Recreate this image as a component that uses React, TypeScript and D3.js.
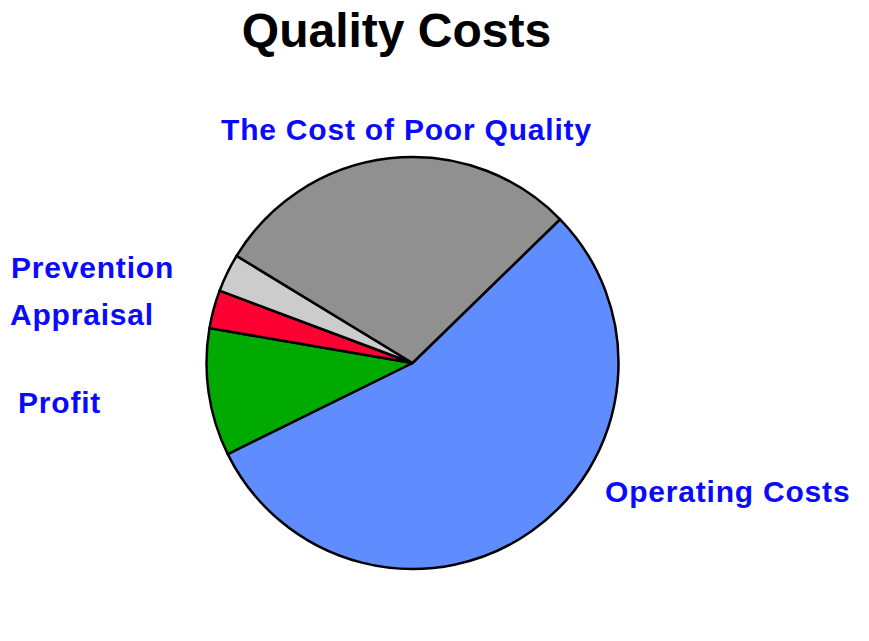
import React from "react";
import * as d3 from "d3";

const categories = ["Operating Costs", "Profit", "Appraisal", "Prevention", "The Cost of Poor Quality"];
const values = [55, 10, 3, 3, 29];
const colors = ["#5f8dff", "#00aa00", "#ff0033", "#cccccc", "#909090"];
const title = "Quality Costs";

// label layout (x = start, y = baseline)
const labelX = [605, 18, 10, 11, 221];
const labelY = [502, 413, 325, 278, 140];

const W = 869;
const H = 641;
const cx = 412.5;
const cy = 363;
const R = 206;
const startDeg = 45.75;

export default function App() {
  const pie = d3
    .pie<number>()
    .sort(null)
    .value((d) => d)
    .startAngle((startDeg * Math.PI) / 180)
    .endAngle(((startDeg + 360) * Math.PI) / 180);
  const arcs = pie(values);
  const arc = d3.arc<d3.PieArcDatum<number>>().innerRadius(0).outerRadius(R);

  return (
    <svg
      width={W}
      height={H}
      style={{ position: "absolute", left: 0, top: 0, background: "#fff" }}
      fontFamily="Liberation Sans, Arial, sans-serif"
    >
      <rect x={0} y={0} width={W} height={H} fill="#fff" />
      <text x={396.5} y={47} textAnchor="middle" fontSize={48} fontWeight="bold" fill="#000">
        {title}
      </text>
      <g transform={`translate(${cx},${cy})`}>
        {arcs.map((a, i) => (
          <path key={i} d={arc(a) || ""} fill={colors[i]} stroke="#000" strokeWidth={2.5} strokeLinejoin="round" />
        ))}
      </g>
      {categories.map((c, i) => (
        <text
          key={c}
          x={labelX[i]}
          y={labelY[i]}
          fontSize={30}
          fontWeight="bold"
          fill="#0a0aff"
          letterSpacing={0.8}
        >
          {c}
        </text>
      ))}
    </svg>
  );
}
